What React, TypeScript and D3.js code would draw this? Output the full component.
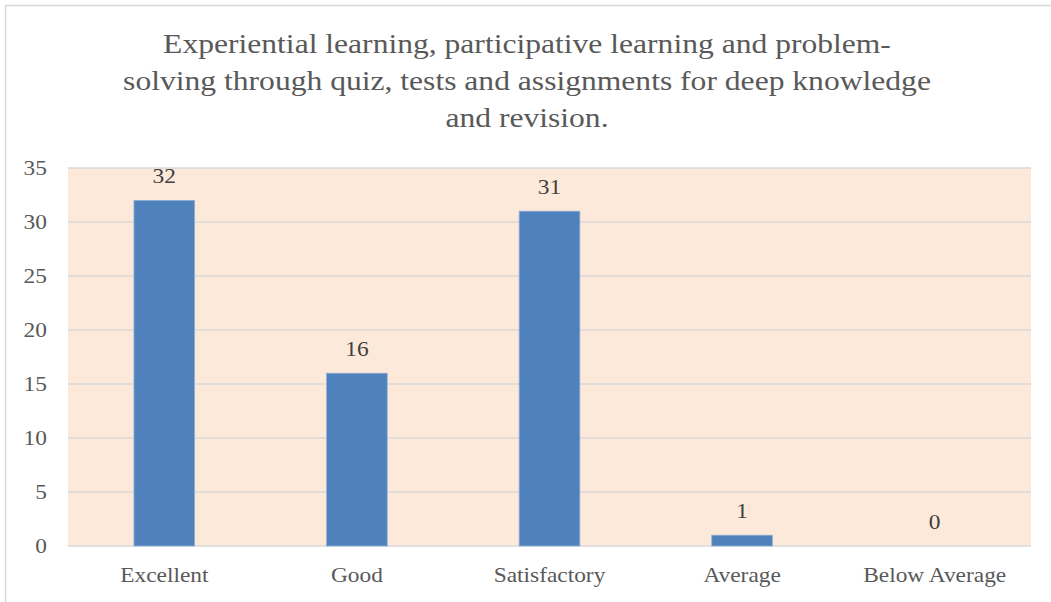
import React from "react";
import * as d3 from "d3";

const categories: string[] = ["Excellent", "Good", "Satisfactory", "Average", "Below Average"];
const counts: number[] = [32, 16, 31, 1, 0];
const yTicks: number[] = [0, 5, 10, 15, 20, 25, 30, 35];
const titleLines: string[] = [
  "Experiential learning, participative learning and problem-",
  "solving through quiz, tests and assignments for deep knowledge",
  "and revision.",
];

const W = 1051;
const H = 602;
const margin = { top: 168, right: 20, bottom: 56, left: 68 };
const stretch = 1.17; // text in the source is a bit wider than plain Times

const font = "'Liberation Serif', 'Times New Roman', serif";

const Label: React.FC<{
  x: number;
  y: number;
  size: number;
  fill: string;
  anchor: "start" | "middle" | "end";
  children: React.ReactNode;
}> = ({ x, y, size, fill, anchor, children }) => (
  <text
    transform={`translate(${x},${y}) scale(${stretch},1)`}
    textAnchor={anchor}
    fontFamily={font}
    fontSize={size}
    fill={fill}
  >
    {children}
  </text>
);

const App: React.FC = () => {
  const x = d3
    .scaleBand()
    .domain(categories)
    .range([margin.left, W - margin.right])
    .paddingInner(0.685)
    .paddingOuter(0.3425);

  const y = d3
    .scaleLinear()
    .domain([0, 35])
    .range([H - margin.bottom, margin.top]);

  return (
    <svg
      width={W}
      height={H}
      style={{ position: "absolute", left: 0, top: 0, background: "#fff" }}
    >
      <rect x={5.5} y={5.5} width={W + 10} height={H + 10} fill="#fff" stroke="#d9d9d9" strokeWidth={1.5} />
      {titleLines.map((t, i) => (
        <Label key={i} x={527} y={53 + i * 37} size={27} fill="#595959" anchor="middle">
          {t}
        </Label>
      ))}
      <rect
        x={margin.left}
        y={margin.top}
        width={W - margin.right - margin.left}
        height={y(0) - margin.top}
        fill="#fde9d9"
      />
      {yTicks.map((t) => (
        <g key={t}>
          <line
            x1={margin.left}
            x2={W - margin.right}
            y1={y(t)}
            y2={y(t)}
            stroke="#d9d9d9"
            strokeWidth={1.5}
          />
          <Label x={47} y={y(t) + 7} size={20} fill="#595959" anchor="end">
            {t}
          </Label>
        </g>
      ))}
      {categories.map((c, i) => (
        <g key={c}>
          {counts[i] > 0 && (
            <rect
              x={x(c)!}
              y={y(counts[i])}
              width={x.bandwidth()}
              height={y(0) - y(counts[i])}
              fill="#4f81bd"
              stroke="#8fb0d8"
              strokeWidth={0.8}
            />
          )}
          <Label
            x={x(c)! + x.bandwidth() / 2}
            y={y(counts[i]) - 17}
            size={20}
            fill="#404040"
            anchor="middle"
          >
            {counts[i]}
          </Label>
          <Label x={x(c)! + x.bandwidth() / 2} y={582} size={20} fill="#595959" anchor="middle">
            {c}
          </Label>
        </g>
      ))}
    </svg>
  );
};

export default App;
